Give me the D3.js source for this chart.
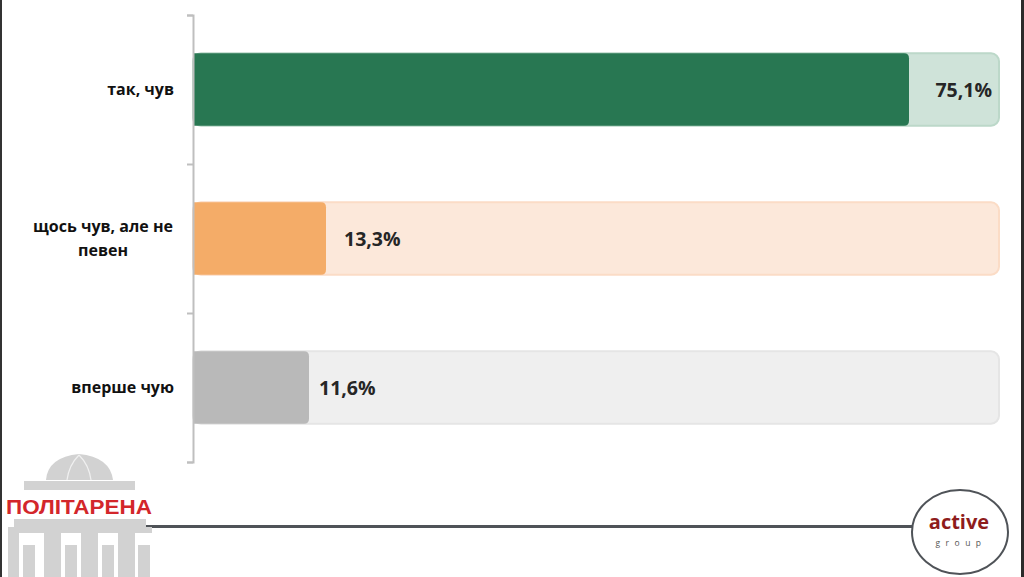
<!DOCTYPE html>
<html><head><meta charset="utf-8">
<script src="https://cdn.jsdelivr.net/npm/d3@7/dist/d3.min.js"></script>
<style>html,body{margin:0;padding:0;background:#fff;overflow:hidden}svg{display:block}</style>
</head><body>
<svg id="c" width="1024" height="577"></svg>
<script>
const categories = ["так, чув", "щось чув, але не певен", "вперше чую"];
const values = [75.1, 13.3, 11.6];
const valueLabels = ["75,1%", "13,3%", "11,6%"];
const barColors = ["#287752", "#f4ac68", "#b9b9b9"];
const trackColors = ["#cfe3d9", "#fce8da", "#efefef"];
const trackStroke = ["#bcd8c9", "#fbdcc6", "#e5e5e5"];

const svg = d3.select("#c");
const plotLeft = 193, plotRight = 999, plotTop = 15, plotBottom = 462;

const x = d3.scaleLinear().domain([0, 100]).range([plotLeft, plotLeft + 1000]);
const y = d3.scaleBand().domain(categories).range([plotTop, plotBottom])
  .paddingInner(0.515).paddingOuter(0.2575);

// frame edges
svg.append("rect").attr("x",0).attr("y",0).attr("width",2).attr("height",577).attr("fill","#333");
svg.append("rect").attr("x",1021).attr("y",0).attr("width",3).attr("height",577).attr("fill","#2b2b2b");

// tracks
svg.selectAll("rect.track").data(categories).join("rect").attr("class","track")
  .attr("x", plotLeft).attr("y", d => y(d))
  .attr("width", plotRight - plotLeft).attr("height", y.bandwidth())
  .attr("rx", 8).attr("fill", (d,i) => trackColors[i])
  .attr("stroke", (d,i) => trackStroke[i]).attr("stroke-width", 2);

// bars (leave room for label inside track)
const barEnd = v => Math.min(x(v), plotRight - 90);
svg.selectAll("path.bar").data(values).join("path").attr("class","bar")
  .attr("d", (v,i) => {
    const x0 = plotLeft, x1 = barEnd(v), y0 = y(categories[i]), h = y.bandwidth(), r = 5;
    return `M${x0},${y0}H${x1-r}Q${x1},${y0} ${x1},${y0+r}V${y0+h-r}Q${x1},${y0+h} ${x1-r},${y0+h}H${x0}Z`;
  })
  .attr("fill", (v,i) => barColors[i]);

// value labels
svg.selectAll("text.val").data(values).join("text").attr("class","val")
  .attr("x", (v,i) => x(v) > plotRight - 90 ? plotRight - 7 : barEnd(v) + (i===1 ? 18 : 10))
  .attr("text-anchor", (v) => x(v) > plotRight - 90 ? "end" : "start")
  .attr("y", (v,i) => y(categories[i]) + y.bandwidth()/2)
  .attr("dy", "0.36em")
  .attr("font-family", "Open Sans, sans-serif").attr("font-weight", 700)
  .attr("font-size", 19.5).attr("fill", "#262626")
  .text((v,i) => valueLabels[i]);

// axis
const tickScale = d3.scaleLinear().domain([0, categories.length]).range([plotTop, plotBottom]);
const axis = svg.append("g").attr("transform", `translate(${plotLeft},0)`)
  .call(d3.axisLeft(tickScale).tickValues(d3.range(categories.length+1))
    .tickSize(6).tickSizeOuter(6).tickFormat(""));
axis.selectAll("path,line").attr("stroke", "#bfbfbf").attr("stroke-width", 2);

// category labels
const wrapLines = {"щось чув, але не певен": ["щось чув, але не", "певен"]};
categories.forEach(c => {
  const lines = wrapLines[c] || [c];
  const cy = y(c) + y.bandwidth()/2;
  const lh = 24;
  const t = svg.append("text")
    .attr("font-family","Open Sans, sans-serif").attr("font-weight",700)
    .attr("font-size",16).attr("fill","#111");
  lines.forEach((l, k) => {
    t.append("tspan").attr("x", lines.length > 1 ? 103 : 174)
      .attr("text-anchor", lines.length > 1 ? "middle" : "end")
      .attr("y", cy + (k - (lines.length-1)/2) * lh).attr("dy","0.36em").text(l);
  });
});

// bottom line
svg.append("line").attr("x1",145).attr("x2",912).attr("y1",526.5).attr("y2",526.5)
  .attr("stroke","#4f5358").attr("stroke-width",3);

// active group logo
svg.append("ellipse").attr("cx",960).attr("cy",532).attr("rx",48).attr("ry",42)
  .attr("fill","#fff").attr("stroke","#4f5358").attr("stroke-width",2);
svg.append("text").attr("x",959).attr("y",529).attr("text-anchor","middle")
  .attr("font-family","Open Sans, sans-serif").attr("font-weight",700).attr("font-size",20)
  .attr("fill","#8e1c1c").text("active");
svg.append("text").attr("x",961).attr("y",546).attr("text-anchor","middle")
  .attr("font-family","Open Sans, sans-serif").attr("font-size",8.5).attr("letter-spacing","5.5px")
  .attr("fill","#555").text("group");

// politarena logo (building)
const g = svg.append("g").attr("fill","#d2d2d2");
g.append("path").attr("d","M46,480 Q48,457 79,454 Q110,457 113,480 Z");
g.append("path").attr("d","M79,455 Q69,465 67,480 M79,455 Q89,465 91,480").attr("fill","none").attr("stroke","#f0f0f0").attr("stroke-width",1.2);
g.append("rect").attr("x",24).attr("y",481).attr("width",111).attr("height",9);
g.append("rect").attr("x",14).attr("y",519).attr("width",132).attr("height",8);
g.append("rect").attr("x",8).attr("y",527).attr("width",144).attr("height",6);
[[8,533,11,44],[23,545,12,32],[44,533,17,44],[65,545,12,32],[81,533,17,44],[102,545,12,32],[118,533,17,44],[138,545,12,32]]
  .forEach(r => g.append("rect").attr("x",r[0]).attr("y",r[1]).attr("width",r[2]).attr("height",r[3]));
svg.append("text").attr("x",79).attr("y",514).attr("text-anchor","middle")
  .attr("font-family","Liberation Sans, Arial, sans-serif").attr("font-weight",700)
  .attr("font-size",21).attr("textLength",146).attr("lengthAdjust","spacingAndGlyphs")
  .attr("fill","#d3262b").text("ПОЛІТАРЕНА");
</script>
</body></html>
